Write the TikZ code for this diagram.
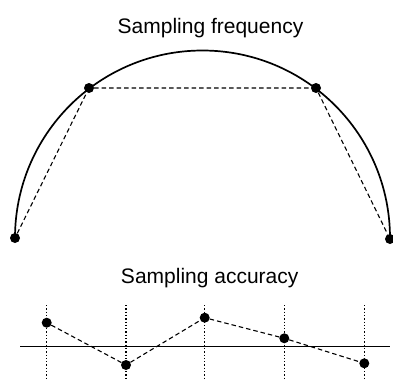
\documentclass[tikz,border=0pt]{standalone}
\usepackage{fontspec}
\setmainfont{Liberation Sans}
\begin{document}
\begin{tikzpicture}[x=1pt,y=-1pt,
  dot/.style={circle,fill=black,inner sep=0pt,minimum size=10pt},
  chord/.style={dash pattern=on 4.5pt off 3pt, line width=1.1pt},
  guide/.style={dash pattern=on 1.3pt off 2pt, line width=1.4pt},
  title/.style={anchor=base,font=\fontsize{21}{25}\selectfont},
  curve/.style={line width=1.7pt}]
\useasboundingbox (0,0) rectangle (393,380);
% top part
\node[title] (t1) at (210.5,33) {Sampling frequency};
\coordinate (c) at (202.5,238);
\draw[curve] (15,238) arc[start angle=180,end angle=360,radius=187.5];
\node[dot] (a) at (15,238) {};
\node[dot] (b) at (89,88) {};
\node[dot] (d) at (316,88) {};
\node[dot] (e) at (390,239) {};
\draw[chord] (a) -- (b) -- (d) -- (e);
% bottom part
\node[title] (t2) at (209.7,283) {Sampling accuracy};
\coordinate (hl) at (20,346.5);
\coordinate (hr) at (390,346.5);
\draw[line width=1.5pt] (hl) -- (hr);
\foreach \i/\x/\y in {1/46.7/322.7,2/126/365,3/204.7/317.7,4/284.3/338.3,5/364.3/363.3}{
  \coordinate (v\i t) at (\x,305);
  \coordinate (v\i b) at (\x,380);
  \draw[guide] (v\i t) -- (v\i b);
  \node[dot] (p\i) at (\x,\y) {};
}
\draw[chord] (p1) -- (p2) -- (p3) -- (p4) -- (p5);
\end{tikzpicture}
\end{document}
